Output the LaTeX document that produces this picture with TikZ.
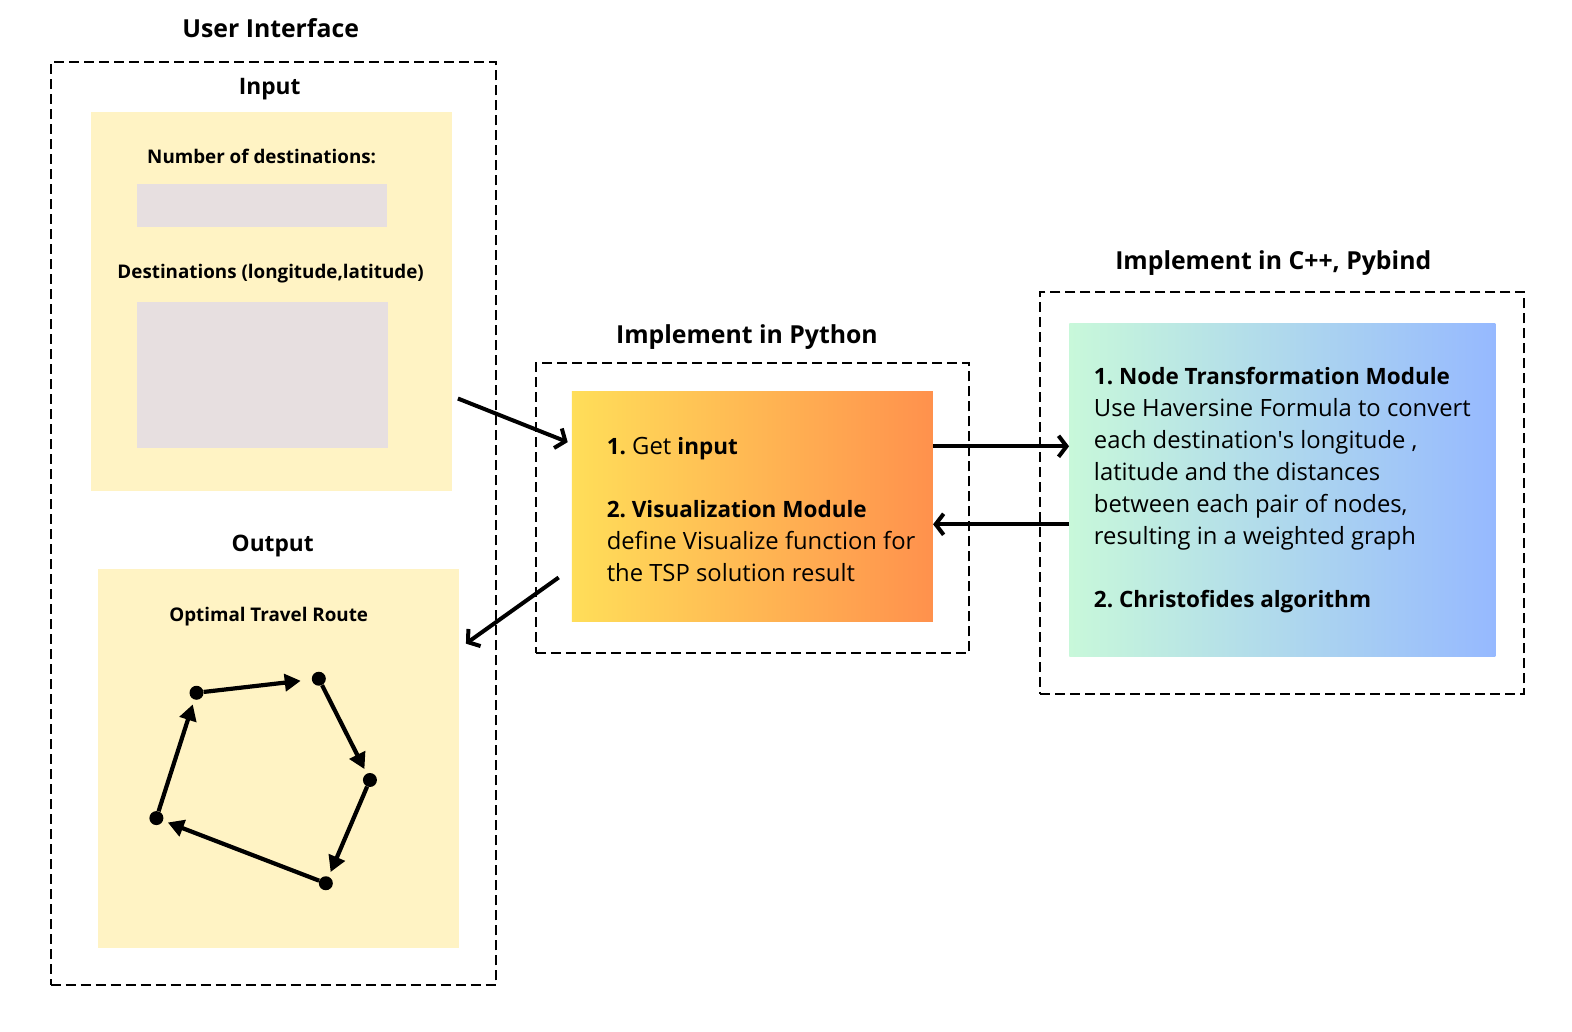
\documentclass[tikz,border=0pt]{standalone}
\usepackage{fontspec}
\setmainfont{Open Sans}
\usepackage{tikz}
\usetikzlibrary{arrows.meta,positioning}

\definecolor{padyellow}{RGB}{255,243,196}
\definecolor{fieldgray}{RGB}{231,223,224}
\definecolor{pyleft}{RGB}{255,222,89}
\definecolor{pyright}{RGB}{255,145,77}
\definecolor{cppleft}{RGB}{200,248,218}
\definecolor{cppright}{RGB}{150,185,255}

% bold heading inside the body text
\newcommand{\hd}[1]{{\fontsize{22.5}{32}\selectfont\bfseries #1}}

\begin{document}
\frenchspacing
\begin{tikzpicture}[
    x=1.00255pt, y=-1.00255pt,
    >={Straight Barb[length=8pt,width=21pt]},
    % --- node styles -------------------------------------------------
    group/.style={draw, line width=2pt, dash pattern=on 10pt off 5pt,
        inner sep=0pt},
    pad/.style={fill=padyellow, inner sep=0pt},
    field/.style={fill=fieldgray, inner sep=0pt},
    grad/.style={inner sep=0pt, shading=axis, shading angle=90},
    title/.style={font=\bfseries\fontsize{24.8}{28}\selectfont},
    section/.style={font=\bfseries\fontsize{22.7}{26}\selectfont},
    label/.style={font=\bfseries\fontsize{18.8}{22}\selectfont},
    body/.style={font=\fontsize{23.8}{32}\selectfont, align=left,
        inner sep=0pt, anchor=north west},
    dot/.style={circle, fill=black, inner sep=0pt, minimum size=14pt},
    flow/.style={->, line width=4pt},
    route/.style={-{Triangle[length=16pt,width=17pt]}, line width=4.2pt,
        shorten >=5pt}
]
\path[use as bounding box, fill=white] (0,0) rectangle (1568,1028.4);

% --- user interface -----------------------------------------------
\node[group, minimum width=445pt, minimum height=923pt] (ui) at (272.5,522.5) {};
\node[title] at (270,28) {User Interface};

\node[section] at (269,89) {Input};
\node[pad, minimum width=361pt, minimum height=379pt] (inbox) at (270.5,300.5) {};
\node[label] at (261,156) {Number of destinations:};
\node[field, minimum width=250pt, minimum height=43pt] (numfield) at (261,204.5) {};
\node[label] at (270,273) {Destinations (longitude,latitude)};
\node[field, minimum width=251pt, minimum height=146pt] (destfield) at (261.5,374) {};

\node[section] at (272,545) {Output};
\node[pad, minimum width=361pt, minimum height=379pt] (outbox) at (277.5,756.5) {};
\node[label] at (268,615) {Optimal Travel Route};

% route stops
\node[dot] (r1) at (196,691) {};
\node[dot] (r2) at (318,677) {};
\node[dot] (r3) at (369,778) {};
\node[dot] (r4) at (325,881) {};
\node[dot] (r5) at (156,816) {};
\draw[route, shorten >=11pt] (r1) -- (r2);
\draw[route] (r2) -- (r3);
\draw[route] (r3) -- (r4);
\draw[route] (r4) -- (r5);
\draw[route] (r5) -- (r1);

% --- python part --------------------------------------------------
\node[group, minimum width=433pt, minimum height=290pt] (py) at (750.5,507) {};
\node[title] at (745,336) {Implement in Python};
\node[grad, left color=pyleft, right color=pyright,
    minimum width=361pt, minimum height=230pt] (pybox) at (750.5,505) {};
\node[body] (pytext) at (605,436)
    {\hd{1.} Get \hd{input}\\[31pt]
     \hd{2. Visualization Module}\\
     define Visualize function for\\
     the TSP solution result};

% --- c++ part -----------------------------------------------------
\node[group, minimum width=484pt, minimum height=402pt] (cpp) at (1279,492) {};
\node[title] at (1270,262) {Implement in C++, Pybind};
\node[grad, left color=cppleft, right color=cppright,
    minimum width=426pt, minimum height=333pt] (cppbox) at (1279,488.5) {};
\node[body] (cpptext) at (1091,366)
    {\hd{1. Node Transformation Module}\\
     Use Haversine Formula to convert\\
     each destination\textquotesingle s longitude ,\\
     latitude and the distances\\
     between each pair of nodes,\\
     resulting in a weighted graph\\[31pt]
     \hd{2. Christofides algorithm}};

% --- main flow arrows --------------------------------------------
\draw[flow] ([shift={(6,97)}]inbox.east) -- ([shift={(-4,-64)}]pybox.west);
\draw[flow] ([yshift=60pt]pybox.east) -- ([yshift=60pt]pybox.east -| cppbox.west);
\draw[flow] ([yshift=-18pt]pybox.east -| cppbox.west) -- ([yshift=-18pt]pybox.east);
\draw[flow] ([shift={(-13,71)}]pybox.west) -- ([shift={(7,-114.5)}]outbox.east);

\end{tikzpicture}
\end{document}
